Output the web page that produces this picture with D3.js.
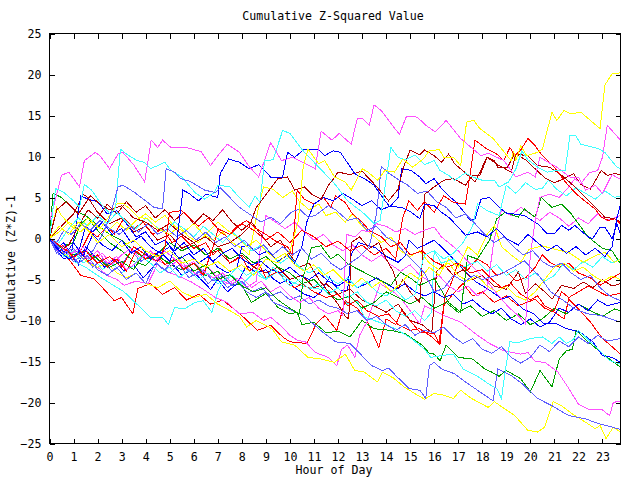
<!DOCTYPE html>
<html><head><meta charset="utf-8">
<script src="https://cdn.jsdelivr.net/npm/d3@7/dist/d3.min.js"></script>
<style>
body{margin:0;background:#fff}
svg text{font-family:"DejaVu Sans Mono",monospace;font-size:11.6px;fill:#000}
</style>
</head><body>
<svg id="chart" width="640" height="480"></svg>
<script>
const chartTitle = "Cumulative Z-Squared Value";
const xTitle = "Hour of Day";
const yTitle = "Cumulative (Z*Z)-1";
const xTicks = [0,1,2,3,4,5,6,7,8,9,10,11,12,13,14,15,16,17,18,19,20,21,22,23];
const yTicks = [-25,-20,-15,-10,-5,0,5,10,15,20,25];
const xDomain = [0, 23.75];
const yDomain = [-25, 25];

// series as [hour, cumulative value] pairs
const m1 = [[0,2],[0.5,7.7],[0.8,8.1],[1.25,6.3],[1.45,9.5],[1.9,10.5],[2.1,10.1],[2.5,8.5],[2.85,10.3],[3.05,10.5],[3.5,9],[3.96,6.9],[4.23,12],[4.5,11.1],[4.7,12],[5.05,11.1],[5.7,11.1],[6.3,10.6],[6.7,8.9],[7.0,10.1],[7.4,11.5],[7.9,10.5],[8.3,8.8],[8.7,7.5],[9.2,11.7],[9.65,9.5],[10.1,9.9],[10.6,9.2],[11.05,8.5],[11.3,13.1],[11.75,12],[12.05,12.8],[12.55,11.5],[12.8,14.6],[13.0,14.7],[13.3,13.8],[13.5,16.3],[13.8,15.6],[14.55,12.7],[14.85,14.9],[15.3,14.8],[15.65,13.8],[16.05,13.0],[16.5,14.4],[17.1,12.2],[17.7,10.7],[17.95,10.1],[18.25,10.4],[18.9,9.5],[19.4,7.5],[19.9,8.1],[20.2,7.5],[20.4,9.9],[20.8,9.2],[21.1,8.7],[21.65,7.5],[22.0,7.5],[22.3,5.9],[22.7,6.5],[23.0,5.5],[23.4,7.8],[23.75,7.2]];
const m2 = [[0,0],[0.4,-1.2],[0.8,-2.0],[1.2,-1.5],[1.6,-2.8],[2.0,-3.5],[2.4,-4.5],[2.8,-5.0],[3.1,-5.7],[3.6,-5.2],[4.1,-5.5],[4.5,-3.1],[4.9,-4.1],[5.3,-4.5],[5.9,-5.3],[6.45,-6.3],[6.9,-7.2],[7.4,-7.8],[7.9,-9.2],[8.45,-9.0],[8.9,-10.0],[9.2,-9.6],[9.6,-10.6],[10.0,-11.8],[10.3,-12.4],[10.65,-12.6],[11.05,-13.9],[11.6,-14.5],[11.95,-15.5],[12.15,-13.5],[12.4,-13.0],[12.7,-14.5],[12.9,-11.8],[13.2,-10.2],[13.75,-5.5],[14.4,-6.7],[14.75,-7.8],[15.4,-10.4],[15.6,-8.2],[16.0,-8.8],[16.5,-9.5],[17.1,-10.2],[17.8,-11.8],[18.3,-12.8],[18.9,-13.7],[19.6,-14.1],[19.9,-13.9],[20.2,-15.0],[20.6,-15.1],[21.15,-16.3],[21.6,-18.3],[22.0,-20.2],[22.4,-20.8],[22.95,-20.8],[23.3,-21.6],[23.45,-20.0],[23.75,-19.8]];
const m3 = [[0,0],[0.4,-0.8],[0.8,-2.0],[1.2,-1.2],[1.6,-2.5],[2.0,-1.5],[2.4,-3.0],[2.8,-2.2],[3.2,-3.8],[3.6,-3.0],[4.0,-1.8],[4.4,-2.8],[4.8,-1.5],[5.2,-2.5],[5.6,-3.5],[6.0,-2.8],[6.4,-4.0],[6.8,-4.8],[7.2,-4.2],[7.6,-5.5],[8.0,-4.8],[8.4,-6.0],[8.8,-5.2],[9.2,-6.5],[9.6,-5.8],[10.0,-7.0],[10.4,-7.8],[10.8,-7.2],[11.2,-8.5],[11.6,-9.2],[12.0,-8.8],[12.2,-9.4],[12.35,0.5],[12.7,0.2],[13.0,1.0],[13.3,0.8],[13.6,1.8],[14.0,1.5],[14.4,0.8],[14.8,1.2],[15.2,0.5],[15.6,1.0],[16.0,1.4],[16.3,0.2],[16.6,-0.5],[17.0,-1.5],[17.4,-2.8],[17.8,-4.0],[18.2,-5.2],[18.6,-6.7],[19.1,-8.4],[19.5,-9.4],[19.8,-10.4],[20.0,-2.0],[20.2,2.2],[20.4,5.0],[20.8,5.4],[21.2,5.0],[21.6,6.3],[21.85,7.3],[22.1,6.7],[22.45,8.0],[22.8,8.3],[23.0,9.9],[23.2,13.8],[23.75,12.0]];
const m4 = [[0,0],[0.3,-1.5],[0.6,-0.8],[1.0,-2.2],[1.4,-1.0],[1.8,-2.5],[2.2,-1.8],[2.6,-3.2],[3.0,-2.0],[3.4,-1.2],[3.8,-2.5],[4.2,-1.5],[4.6,-2.8],[5.0,-3.5],[5.4,-2.5],[5.8,-3.8],[6.2,-4.5],[6.6,-3.5],[7.0,-4.8],[7.4,-5.5],[7.8,-4.8],[8.2,-6.0],[8.6,-5.2],[8.8,-0.5],[9.0,2.8],[9.4,2.0],[9.8,1.2],[10.2,2.0],[10.6,0.8],[11.0,-0.2],[11.4,0.5],[11.8,-0.8],[12.2,-1.5],[12.6,-0.8],[13.0,-2.0],[13.4,-2.8],[13.8,-2.0],[14.2,-3.2],[14.6,-4.0],[15.0,-3.2],[15.4,-4.5],[15.8,-5.2],[16.2,-4.5],[16.6,-5.8],[17.0,-6.5],[17.4,-5.8],[17.8,-7.0],[18.2,-6.2],[18.5,0.0],[18.8,3.5],[19.2,2.8],[19.6,3.8],[20.0,3.0],[20.4,2.2],[20.8,3.2],[21.2,2.5],[21.6,1.5],[22.0,2.5],[22.4,1.8],[22.8,3.0],[23.2,2.2],[23.75,2.8]];

const c1 = [[0,0],[0.25,6.1],[0.6,5.6],[1,4.6],[1.25,3.8],[1.45,6.6],[1.75,5.9],[2.15,4.2],[2.55,2.9],[2.75,3.8],[2.95,10.9],[3.25,10.2],[3.65,9.5],[3.95,9.3],[4.2,8.5],[4.8,9.3],[5.05,8.3],[5.5,7.5],[6.05,5.6],[6.45,4.8],[6.85,5.6],[7.0,6.5],[7.5,6.3],[7.9,5.0],[8.3,3.8],[8.55,5.2],[8.75,4.4],[8.95,9.5],[9.3,9.6],[9.7,13.2],[10.0,12.8],[10.6,10.5],[11.2,8.7],[11.85,6.7],[12.4,4.6],[13.1,3.0],[13.5,1.8],[13.75,2.2],[14.2,11.1],[14.5,9.9],[14.8,9.6],[15.2,10.2],[15.6,9.0],[16,9.5],[16.24,8.3],[16.6,7.7],[16.85,7.1],[17.3,8.0],[17.6,7.5],[18,7.1],[18.5,7.1],[18.7,6.3],[19.1,6.9],[19.4,8.5],[19.65,10.7],[19.9,9.6],[20.3,8.7],[20.7,8.1],[21.1,8.3],[21.45,8.3],[21.65,12.6],[21.9,12.5],[22.1,11.5],[22.5,11.2],[22.8,11.0],[23.1,10.5],[23.6,8.7],[23.75,8.5]];
const c2 = [[0,0],[0.3,-1.0],[0.6,-2.2],[1.0,-1.5],[1.4,-3.0],[1.8,-2.2],[2.2,-3.8],[2.6,-3.0],[3.0,-4.2],[3.4,-3.5],[3.8,-2.2],[4.2,-3.0],[4.6,-4.2],[5.0,-3.5],[5.4,-4.8],[5.8,-3.8],[6.2,-5.0],[6.6,-4.2],[7.0,-5.5],[7.4,-4.8],[7.8,-3.5],[8.2,-4.5],[8.6,-3.8],[9.0,-5.0],[9.3,-3.5],[9.6,-4.5],[10.0,-5.8],[10.4,-5.0],[10.8,-6.2],[11.2,-5.5],[11.6,-6.8],[12.0,-6.0],[12.4,-7.2],[12.8,-6.5],[13.2,-7.8],[13.6,-8.2],[14.0,-7.5],[14.4,-8.8],[14.8,-9.5],[15.2,-8.8],[15.6,-10.0],[15.9,-9.0],[16.0,-1.5],[16.3,-3.0],[16.8,-2.5],[17.2,-3.5],[17.8,-2.8],[18.2,-4.0],[18.6,-3.2],[19.0,-4.5],[19.4,-3.8],[19.8,-5.0],[20.2,-4.2],[20.6,-5.2],[21.0,-4.5],[21.4,-3.0],[21.8,-3.8],[22.2,-2.8],[22.6,-3.5],[23.0,-2.2],[23.4,-3.0],[23.75,-2.5]];
const c3 = [[0,0],[0.5,-1.5],[1,-2.8],[1.5,-3.5],[2.1,-4.7],[3.1,-6.5],[4.2,-9.6],[4.7,-9.6],[4.95,-10.5],[5.2,-8.4],[5.6,-8.6],[6.05,-7.8],[6.4,-7.6],[6.75,-9.0],[7.0,-6.5],[7.2,-5.3],[7.6,-4.5],[8.0,-5.6],[8.5,-4.2],[9.0,-5.0],[9.5,-4.0],[10,-5.2],[10.5,-5.8],[11.85,-6.5],[12.4,-8.0],[12.8,-7.6],[13.1,-9.6],[13.7,-10.2],[14.4,-11],[15.05,-12.2],[15.6,-13.5],[15.85,-14.5],[16.25,-14.3],[16.8,-14.1],[17.2,-15.9],[17.75,-16.7],[18.25,-17.7],[18.6,-18.3],[18.8,-19.5],[18.95,-16.3],[19.15,-12.6],[19.5,-12.7],[20.0,-12.2],[20.5,-12],[20.9,-12.8],[21.2,-12],[21.5,-12.8],[21.8,-12.3],[22.0,-11.2],[22.5,-12.6],[22.9,-13.7],[23.3,-14.9],[23.75,-15.3]];
const c4 = [[0,0],[0.4,-0.5],[0.8,1.2],[1.2,2.5],[1.6,1.5],[2.0,2.8],[2.4,1.8],[2.8,3.2],[3.2,2.0],[3.6,1.2],[4.0,2.5],[4.4,1.5],[4.8,0.8],[5.2,2.0],[5.6,1.2],[6.0,0.2],[6.4,1.5],[6.8,0.5],[7.2,-0.5],[7.6,0.8],[8.0,-0.2],[8.4,-1.5],[8.8,-0.8],[9.2,-2.0],[9.6,-3.0],[10.0,-2.2],[10.4,-3.5],[10.8,-4.2],[11.2,-3.5],[11.6,-4.8],[12.0,-5.5],[12.4,-4.8],[12.8,-6.0],[13.2,-5.2],[13.6,-6.5],[14.0,-7.0],[14.4,-6.2],[14.8,-7.5],[15.2,-6.8],[15.5,-3.0],[15.6,-2.0],[16.0,-1.5],[16.4,-2.5],[16.8,-1.8],[17.2,-0.5],[17.6,1.5],[17.8,4.2],[18.2,3.4],[18.7,2.8],[19.0,6.5],[19.4,5.5],[19.8,6.8],[20.2,6.0],[20.5,6.1],[20.75,7.1],[21.1,6.0],[21.5,5.2],[21.9,6.2],[22.3,5.5],[22.7,4.8],[23.1,5.8],[23.5,5.0],[23.75,5.2]];

const y1 = [[0,0],[0.4,1.5],[0.8,0.5],[1.2,2.0],[1.6,1.0],[2.0,-0.5],[2.5,0.5],[3.0,-1.0],[3.5,-0.2],[4.0,-1.5],[4.5,-2.2],[5.0,-1.5],[5.5,-3.0],[6.0,-2.5],[6.5,-3.5],[7.0,-2.8],[7.5,-4.0],[8.0,-3.2],[8.5,-4.5],[9.0,-2.5],[9.5,-3.0],[10.0,-1.5],[10.35,2.2],[10.55,8.7],[10.75,10.9],[11.2,9.1],[11.45,9.5],[11.85,7.5],[12.3,6.9],[12.55,5.9],[13.0,8.5],[13.2,8.2],[13.65,7.1],[13.95,8.3],[14.35,8.1],[14.7,9.7],[15.1,8.7],[15.55,9.7],[15.8,10.7],[16.0,10.7],[16.2,10.9],[16.4,9.9],[16.8,9.9],[17.1,8.9],[17.35,14.2],[17.65,14.4],[17.9,13.4],[18.45,12.2],[19.2,9.5],[19.3,10.7],[19.4,9.5],[19.6,11.3],[19.85,10.1],[20.3,10.5],[20.5,10.9],[20.9,15.4],[21.1,14.4],[21.4,15.6],[21.7,15.2],[22.1,15.4],[22.5,14.4],[22.9,13.4],[23.1,18.7],[23.4,20.1],[23.75,20.2]];
const y2 = [[0,0],[0.3,3.8],[0.5,2.8],[0.9,1.5],[1.3,0.8],[1.7,2.0],[2.1,1.2],[2.5,2.8],[2.8,4.2],[3.05,4.3],[3.35,3.6],[3.7,2.6],[4.1,2.4],[4.5,1.2],[5.0,0.5],[5.4,1.5],[5.8,0.2],[6.2,-0.5],[6.6,0.8],[7.0,2.0],[7.4,1.0],[7.8,0.2],[8.2,-1.0],[8.6,-0.2],[9.0,-1.5],[9.4,-2.5],[9.8,-1.8],[10.2,-3.2],[10.6,-4.0],[11.0,-3.2],[11.4,-4.5],[11.8,-3.8],[12.2,-5.0],[12.6,-5.8],[13.0,-4.8],[13.4,-6.0],[13.8,-5.2],[14.2,-6.5],[14.6,-5.5],[15.0,-4.2],[15.4,-5.0],[15.8,-3.5],[16.2,-4.5],[16.6,-2.5],[17.0,-3.5],[17.4,-1.0],[17.8,-2.0],[18.2,0.5],[18.5,1.6],[18.8,-1.0],[19.2,-2.0],[19.6,-2.9],[19.95,-1.3],[20.5,-0.9],[21.0,-1.3],[21.6,-1.7],[22.2,-2.9],[22.7,-2.1],[23.1,-1.7],[23.5,-2.9],[23.75,-2.5]];
const y3 = [[0,0],[0.4,-1.5],[0.8,-2.2],[1.2,-1.8],[1.6,-3.0],[2.0,-3.5],[2.4,-3.0],[2.8,-4.2],[3.2,-4.8],[3.6,-4.2],[4.0,-5.5],[4.5,-6.0],[5.0,-5.2],[5.5,-6.5],[6.0,-7.2],[6.5,-6.8],[7.0,-8.0],[7.5,-8.8],[7.9,-9.5],[8.2,-10.8],[8.6,-10.0],[9.25,-11.0],[9.65,-12.6],[10.2,-13.0],[10.75,-14.5],[11.3,-14.7],[11.85,-15.1],[12.3,-14.1],[12.7,-16.1],[13.1,-16.3],[13.65,-17.5],[13.85,-16.3],[14.3,-17.0],[14.75,-18.1],[15.3,-19.1],[15.6,-19.6],[16.0,-18.9],[16.4,-19.1],[16.8,-19.5],[17.1,-18.5],[17.55,-19.5],[18.25,-20.6],[18.5,-19.9],[18.95,-20.8],[19.35,-21.6],[19.9,-23.4],[20.3,-23.6],[20.6,-23.0],[20.95,-19.9],[21.3,-20.4],[21.85,-21.6],[22.4,-22.6],[22.7,-23.2],[22.9,-22.8],[23.15,-24.4],[23.45,-23.0],[23.75,-23.6]];
const y4 = [[0,0],[0.4,0.8],[0.8,2.0],[1.2,1.2],[1.6,2.5],[2.0,1.5],[2.4,0.8],[2.8,2.0],[3.2,1.0],[3.6,2.2],[4.0,3.0],[4.4,2.0],[4.8,2.8],[5.2,1.5],[5.6,0.8],[6.0,1.8],[6.4,0.5],[6.8,-0.2],[7.2,0.8],[7.6,-0.5],[8.0,-1.2],[8.3,-2.0],[8.6,2.5],[8.9,6.3],[9.3,6.0],[9.7,5.0],[10.1,5.8],[10.4,4.5],[10.8,3.5],[11.2,4.2],[11.5,2.8],[11.9,3.2],[12.3,2.0],[12.6,3.0],[13.0,1.5],[13.4,0.5],[13.8,-0.5],[14.2,0.2],[14.6,-1.5],[15.0,-2.2],[15.4,-1.5],[15.8,-3.0],[16.2,-3.8],[16.6,-3.0],[17.0,-4.5],[17.4,-5.2],[17.8,-4.5],[18.2,-5.8],[18.6,-6.5],[19,-5.8],[19.4,-7.0],[19.8,-7.5],[20.2,-6.5],[20.6,-5.0],[21.0,-3.5],[21.4,-3.0],[21.8,-4.0],[22.2,-3.5],[22.6,-4.5],[23.0,-5.2],[23.4,-4.6],[23.75,-5.0]];

const b1 = [[0,0],[0.3,-1.0],[0.7,-1.8],[1.0,-0.5],[1.4,-2.2],[1.8,0.5],[2.2,-0.8],[2.6,-1.5],[3.0,-0.2],[3.4,-1.8],[3.8,-1.0],[4.2,-2.5],[4.6,-1.5],[5.0,-2.8],[5.3,-0.2],[5.55,5.9],[5.8,5.5],[6.2,4.6],[6.5,5.4],[7,5.0],[7.1,7.9],[7.45,9.7],[7.9,9.3],[8.3,8.5],[8.7,9.0],[9.2,7.5],[9.7,7.5],[9.9,10.5],[10.2,9.9],[10.6,10.9],[11.2,10.8],[11.45,10.1],[11.8,10.7],[12.1,10.5],[12.7,7.9],[13.1,7.3],[13.5,6.5],[13.95,4.6],[14.15,3.9],[14.65,3.8],[15.05,3.2],[15.4,2.4],[15.6,4.2],[16,4.0],[16.3,3.2],[16.6,2.6],[17.0,1.4],[17.3,0.4],[17.8,0.8],[18.2,0.2],[18.6,1.2],[19.0,0.0],[19.5,-0.8],[19.9,0.5],[20.3,-0.5],[20.7,-1.5],[21.1,-0.8],[21.5,-1.8],[21.9,-1.0],[22.3,-2.0],[22.7,-1.2],[23.1,-2.2],[23.4,-1.0],[23.6,2.5],[23.75,4.2]];
const b2 = [[0,0],[0.4,-1.5],[0.8,-2.5],[1.2,-1.8],[1.5,1.5],[1.8,0.8],[2.2,2.0],[2.6,0.5],[3.0,1.2],[3.4,-0.5],[3.8,0.3],[4.2,-1.0],[4.6,-1.8],[5.0,-1.0],[5.4,-2.5],[5.8,-1.8],[6.2,-3.0],[6.6,-2.2],[7.0,-3.5],[7.4,-4.2],[7.8,-3.5],[8.0,-1.0],[8.3,-0.8],[8.7,-2.0],[9.1,-1.5],[9.5,-2.8],[9.9,-2.0],[10.2,-3.0],[10.5,-1.0],[10.7,2.0],[11.0,4.2],[11.4,5.0],[11.8,4.6],[12.2,5.5],[12.6,4.8],[13.0,4.0],[13.4,4.6],[13.8,3.5],[14.2,4.0],[14.5,5.0],[14.65,8.5],[15.05,8.3],[15.4,7.5],[15.65,6.7],[16,7.3],[16.25,6.3],[16.6,5.2],[16.85,4.6],[17.25,3.2],[17.5,2.2],[17.7,2.4],[17.95,4.8],[18.3,5.0],[18.7,3.8],[19.05,3.0],[19.3,3.0],[19.75,2.8],[20.3,1.8],[20.7,0.6],[21.0,0.6],[21.3,1.6],[21.6,1.0],[21.85,1.6],[22.4,0.2],[22.6,0.0],[22.9,1.4],[23.1,1.4],[23.4,0.0],[23.6,1.8],[23.75,0.5]];
const b3 = [[0,0],[0.3,-1.5],[0.6,-2.5],[0.9,-2.0],[1.2,-3.2],[1.5,-1.0],[1.9,-2.2],[2.3,-3.5],[2.7,-2.5],[3.1,-4.0],[3.5,-3.2],[3.9,-4.8],[4.3,-3.5],[4.7,-2.0],[5.1,-3.0],[5.5,-4.5],[5.9,-3.8],[6.3,-5.0],[6.7,-6.2],[7.0,-5.0],[7.4,-6.5],[7.8,-5.5],[8.2,-3.3],[8.6,-4.2],[9.0,-3.8],[9.3,-4.9],[9.6,-5.5],[9.9,-5.0],[10.2,-6.0],[10.6,-6.8],[11.0,-7.2],[11.3,-6.5],[11.65,-4.7],[11.85,-5.7],[12.1,-6.3],[12.4,-6.3],[12.55,-1.9],[12.85,-0.5],[13.55,-1.1],[13.95,-2.1],[14.5,-2.9],[14.8,-2.1],[14.95,-0.2],[15.3,-1.2],[15.6,-0.8],[16,-0.2],[16.4,-1.3],[16.8,-2.5],[17.2,-3.7],[17.75,-5.3],[18.3,-6.3],[18.85,-7.4],[19.15,-7.0],[19.7,-8.6],[20.15,-9.2],[20.55,-10.4],[21.1,-10.4],[21.5,-11.0],[22.05,-11.4],[22.6,-12.6],[23.0,-14.3],[23.4,-14.5],[23.75,-15.1]];
const b4 = [[0,0],[0.3,-1.2],[0.6,-0.5],[0.9,-2.0],[1.1,1.5],[1.3,5.2],[1.6,4.8],[2.0,4.5],[2.4,3.0],[2.8,3.4],[3.2,1.8],[3.6,0.2],[4.0,0.8],[4.4,-0.8],[4.8,-0.2],[5.2,-1.5],[5.6,-0.5],[6.0,-2.0],[6.4,-1.2],[6.8,-2.8],[7.2,-1.8],[7.6,-1.2],[8.0,-2.5],[8.4,-3.2],[8.8,-2.8],[9.2,-3.8],[9.6,-4.2],[10.0,-3.5],[10.4,-4.5],[10.8,-5.0],[11.2,-4.2],[11.6,-5.2],[12.0,-5.8],[12.4,-5.0],[12.8,-6.0],[13.2,-5.5],[13.6,-4.8],[14.0,-5.5],[14.4,-6.2],[14.8,-5.5],[15.2,-6.5],[15.6,-7.0],[16.0,-6.5],[16.4,-7.2],[16.8,-6.8],[17.2,-8.0],[17.6,-7.5],[18.0,-8.5],[18.4,-9.2],[18.8,-8.5],[19.2,-9.8],[19.6,-10.5],[20.0,-9.8],[20.4,-10.8],[20.8,-10.2],[21.2,-8.5],[21.6,-9.0],[22.0,-8.0],[22.4,-8.8],[22.8,-7.5],[23.2,-8.2],[23.75,-7.8]];

const s1 = [[0,0],[0.3,-0.8],[0.6,-1.8],[1.0,-1.2],[1.4,-2.5],[1.8,-1.5],[2.2,0.5],[2.5,2.5],[2.85,6.3],[3.05,6.5],[3.55,5.6],[3.9,4.8],[4.35,3.8],[4.7,3.6],[4.85,8.5],[5.2,8.1],[5.45,7.3],[5.8,7.0],[6.0,6.7],[6.45,5.9],[6.9,5.6],[7.1,6.2],[7.5,5.0],[7.9,3.8],[8.3,3.0],[8.8,2.0],[9.2,2.6],[9.6,1.8],[10.05,3.2],[10.4,3.6],[10.75,2.6],[11.05,2.8],[11.6,4.0],[11.9,3.5],[12.4,2.2],[12.8,2.5],[13.2,1.0],[13.6,1.5],[14.0,0.2],[14.4,-0.5],[14.8,-1.8],[15.2,-3.0],[15.6,-4.2],[16,-6.5],[16.4,-6.1],[16.8,-4.5],[17.25,-5.3],[17.65,-4.5],[18.0,-5.0],[18.8,-4.3],[19.3,-3.5],[19.75,-2.7],[20.0,-3.5],[20.35,-4.5],[20.85,-6.5],[21.3,-7.4],[21.85,-8.6],[22.4,-9.2],[22.95,-9.4],[23.35,-9.8],[23.75,-10.2]];
const s2 = [[0,0],[0.3,-1.8],[0.6,-1.2],[1.0,-2.8],[1.4,-2.0],[1.8,-3.5],[2.2,-2.5],[2.6,-4.0],[3.0,-3.2],[3.4,-1.5],[3.8,-2.8],[4.2,-2.0],[4.6,-3.5],[5.0,-4.2],[5.4,-3.2],[5.8,-4.8],[6.2,-4.0],[6.6,-5.5],[7.0,-4.5],[7.4,-6.0],[7.8,-5.2],[8.2,-6.5],[8.6,-7.2],[9.0,-6.5],[9.3,-7.8],[9.65,-8.2],[10.1,-8.8],[10.6,-9.4],[11.0,-10.5],[11.4,-11.5],[11.9,-12.6],[12.5,-12.8],[12.9,-14.0],[13.4,-15.5],[13.85,-16.1],[14.1,-15.8],[14.4,-16.7],[14.95,-18.3],[15.4,-18.5],[15.65,-19.5],[15.8,-15.5],[16.0,-15.1],[16.3,-15.9],[16.85,-16.5],[17.4,-17.7],[17.8,-18.5],[18.45,-19.8],[18.65,-15.9],[19.2,-16.7],[19.65,-17.7],[20.3,-19.5],[20.9,-20.4],[21.6,-21.6],[22.3,-22.0],[22.85,-22.6],[23.4,-23.0],[23.75,-23.3]];
const s3 = [[0,0],[0.3,-0.5],[0.6,1.0],[0.9,0.5],[1.3,1.8],[1.7,1.0],[2.1,2.2],[2.5,1.2],[2.9,0.5],[3.3,1.5],[3.7,0.8],[4.1,1.8],[4.5,0.5],[4.9,1.2],[5.3,0.2],[5.7,1.0],[6.1,-0.2],[6.5,0.8],[6.9,-0.5],[7.3,0.2],[7.7,-1.0],[8.1,-0.2],[8.5,-1.5],[8.9,-0.8],[9.3,-2.0],[9.7,-1.0],[10.1,-2.0],[10.5,-1.2],[10.9,-2.5],[11.3,-1.8],[11.7,-3.0],[12.1,-3.8],[12.5,-3.0],[12.9,-2.2],[13.3,-1.0],[13.6,3.0],[13.8,8.8],[14.1,8.0],[14.5,7.2],[14.9,6.5],[15.3,5.5],[15.7,5.8],[16.1,4.5],[16.5,3.8],[16.9,2.5],[17.3,3.0],[17.7,1.8],[18.1,0.5],[18.5,-0.5],[18.9,0.2],[19.3,-1.0],[19.7,-2.0],[20.1,-1.5],[20.5,-2.8],[20.9,-3.5],[21.3,-3.0],[21.7,-4.2],[22.1,-5.0],[22.5,-4.5],[22.9,-6.0],[23.3,-7.0],[23.75,-7.6]];
const s4 = [[0,0],[0.4,-2.0],[0.8,-1.5],[1.2,-3.0],[1.6,-2.2],[2.0,-3.8],[2.4,-4.5],[2.8,-3.5],[3.2,-5.0],[3.6,-4.2],[4.0,-5.5],[4.4,-3.0],[4.8,-3.8],[5.2,-2.5],[5.6,-3.5],[6.0,-4.5],[6.4,-3.8],[6.8,-5.2],[7.2,-4.5],[7.6,-5.8],[8.0,-5.2],[8.4,-6.5],[8.8,-6.0],[9.2,-7.0],[9.6,-6.5],[10.0,-7.5],[10.4,-7.0],[10.8,-8.0],[11.2,-7.5],[11.6,-8.2],[12.0,-8.5],[12.4,-9.2],[12.8,-8.8],[13.2,-10.0],[13.6,-9.5],[14.0,-10.5],[14.4,-11.2],[14.8,-10.5],[15.2,-11.8],[15.6,-11.2],[16.0,-11.5],[16.4,-10.8],[16.8,-12.0],[17.2,-12.8],[17.6,-12.2],[18.0,-13.5],[18.4,-14.0],[18.8,-13.2],[19.2,-14.5],[19.6,-15.2],[20.0,-14.5],[20.4,-13.0],[20.8,-13.8],[21.2,-12.5],[21.6,-13.2],[22.0,-12.0],[22.4,-12.8],[22.8,-11.8],[23.2,-12.5],[23.75,-12.2]];

const r1 = [[0,0],[0.5,-1.0],[1,-2.2],[1.5,-1.5],[2,-3.0],[2.5,-2.2],[3,-3.5],[3.5,-1.0],[4,-2.0],[4.5,-2.8],[4.8,-1.0],[5.0,3.2],[5.5,3.4],[5.8,2.6],[6.2,1.5],[6.6,2.5],[7,1.2],[7.5,0.5],[8,1.8],[8.5,1.0],[9,-0.2],[9.5,0.8],[10,-0.5],[10.5,1.0],[11,0.2],[11.5,-1.0],[12,-0.3],[12.5,-1.5],[13,-0.8],[13.5,-2.0],[14,-1.2],[14.4,-2.5],[14.7,2.6],[14.95,4.6],[15.3,3.4],[15.6,4.5],[16,3.2],[16.4,5.2],[16.8,4.4],[17.3,4.2],[17.5,7.9],[17.7,12],[18.2,10.9],[18.6,10.3],[18.9,9.5],[19.15,11.1],[19.35,10.1],[19.6,10.8],[19.9,12.2],[20.2,11.3],[20.5,10.1],[21.0,8.7],[21.4,7.1],[21.85,5.6],[22.25,4.6],[22.7,3.6],[22.95,2.6],[23.25,2.2],[23.5,2.4],[23.75,1.8]];
const r2 = [[0,0],[0.4,-1.5],[0.8,-2.5],[1.3,-4.5],[1.85,-4.9],[2.3,-6.3],[2.7,-7.6],[3.0,-7.2],[3.47,-9.2],[3.68,-6.1],[4.2,-5.5],[4.7,-6.8],[5.2,-6.0],[5.7,-7.5],[6.2,-6.8],[6.7,-8.0],[7.2,-7.5],[7.85,-9.0],[8.65,-11.2],[9.2,-10.6],[9.7,-12.0],[10.0,-12.6],[10.7,-12.8],[11.1,-10.4],[11.45,-9.4],[11.95,-11.2],[12.3,-7.6],[12.8,-8.5],[13.2,-10.0],[13.7,-13.3],[14.0,-9.8],[14.4,-10.5],[14.65,-8.8],[15.4,-11.4],[16,-11.6],[16.24,-13],[16.4,-8.2],[16.8,-6.7],[17.2,-5.5],[17.6,-7.0],[18.0,-6.5],[18.5,-7.8],[19.0,-7.0],[19.5,-8.2],[20.2,-7.4],[20.6,-8.5],[21.0,-9.0],[21.4,-9.8],[21.6,-7.4],[22.0,-8.6],[22.5,-10.2],[23.0,-12.2],[23.4,-13.2],[23.75,-14.1]];
const r3 = [[0,0],[0.3,-1.2],[0.6,-0.8],[1.0,-2.5],[1.3,-1.5],[1.7,0.8],[2.0,0.2],[2.4,1.5],[2.7,0.5],[3.1,2.5],[3.5,1.2],[3.9,2.0],[4.3,0.5],[4.7,1.2],[5.1,-0.5],[5.5,0.3],[6,-1.2],[6.5,-0.5],[6.8,-2.0],[7.1,-1.2],[7.5,-3.0],[8.0,-2.2],[8.3,-4.0],[8.7,-3.0],[9.0,-4.8],[9.5,-4.0],[9.9,-5.5],[10.2,-6.0],[10.5,-5.5],[11.0,-6.5],[11.5,-7.2],[12,-6.8],[12.4,-8.2],[12.8,-7.5],[13.2,-8.8],[13.7,-9.5],[14.1,-9.2],[14.5,-10.5],[15.0,-11.2],[15.4,-11.0],[15.9,-12.0],[16.2,-12.8],[16.45,-7.0],[16.7,-5.5],[17.0,-3.0],[17.4,-3.8],[17.8,-2.5],[18.2,-3.2],[18.6,-4.5],[19.0,-4.0],[19.4,-5.2],[19.8,-4.8],[20.2,-3.5],[20.5,-2.0],[20.8,-2.9],[21.2,-3.5],[21.6,-3.0],[22.0,-4.2],[22.5,-4.8],[22.9,-5.7],[23.3,-5.0],[23.75,-4.2]];
const r4 = [[0,0],[0.4,-0.8],[0.8,-2.0],[1.2,-1.2],[1.6,-2.8],[2.0,-2.0],[2.4,-3.5],[2.8,-2.5],[3.2,-4.0],[3.6,-1.5],[4.0,-2.5],[4.4,-1.8],[4.8,-3.2],[5.2,-2.5],[5.6,-3.8],[6.0,-3.0],[6.4,-4.5],[6.8,-1.0],[7.0,1.0],[7.4,0.2],[7.8,1.5],[8.2,2.2],[8.6,1.2],[9.0,0.5],[9.5,-0.5],[9.9,-1.0],[10.1,-2.0],[10.3,5.9],[10.6,4.8],[11.0,4.2],[11.4,5.0],[11.7,3.8],[11.9,5.2],[12.3,4.4],[12.6,3.0],[13.0,2.0],[13.3,1.0],[13.8,0.2],[14.2,-1.0],[14.6,-0.5],[15.0,-2.0],[15.5,-1.5],[16,-2.8],[16.5,-3.5],[17,-3.0],[17.5,-4.2],[18,-3.8],[18.4,-5.0],[18.8,-6.0],[19.2,-5.5],[19.6,-6.8],[20,-7.5],[20.3,-7.0],[20.6,-8.2],[21,-8.8],[21.3,-6.5],[21.6,-7.2],[22.0,-6.5],[22.4,-5.8],[22.8,-6.4],[23.2,-7.0],[23.75,-6.7]];

const d1 = [[0,0],[0.3,3.5],[0.7,4.5],[1.2,3.0],[1.7,5.2],[2.1,4.2],[2.5,3.5],[3,4.0],[3.5,2.5],[4,2.0],[4.5,1.0],[5,1.8],[5.5,0.5],[6,-0.5],[6.5,0.2],[7,-1.0],[7.5,-0.5],[8.0,0.5],[8.3,1.4],[8.6,3.8],[9.5,7.3],[9.9,7.5],[10.2,5.9],[10.6,6.3],[10.9,5.4],[11.3,4.8],[11.6,6.5],[11.8,7.2],[12.0,8.1],[12.5,7.8],[13.0,8.2],[13.4,7.0],[13.7,6.0],[14.1,4.6],[14.5,6.0],[14.7,8.5],[15.0,10.8],[15.4,10.2],[15.6,10.8],[16,10.1],[16.3,9.3],[16.6,10.3],[16.85,9.1],[17.3,8.0],[17.7,6.9],[18.2,9.9],[18.5,9.5],[18.65,8.7],[19.05,8.7],[19.35,10.3],[19.9,10.1],[20.3,8.9],[20.8,8.7],[21.3,7.7],[21.7,6.7],[22.3,5.0],[22.7,3.8],[23.1,2.6],[23.5,2.4],[23.75,2.0]];
const d2 = [[0,0],[0.4,-1.5],[0.8,-0.8],[1.2,1.5],[1.6,3.5],[2,2.5],[2.4,4.2],[2.8,3.0],[3.2,4.5],[3.6,3.2],[4.0,4.0],[4.4,2.5],[4.8,3.5],[5.2,2.2],[5.6,3.2],[6.0,1.8],[6.4,3.0],[6.8,2.2],[7.2,3.5],[7.6,2.0],[8.0,1.0],[8.4,2.0],[8.8,0.5],[9.2,-1.0],[9.6,-0.2],[10.0,-2.0],[10.4,-3.5],[10.8,-3.0],[11.2,-5.0],[11.6,-6.5],[12,-8.0],[12.3,-9.5],[12.45,-9.8],[12.55,-0.5],[12.9,0.2],[13.3,-1.2],[13.7,-0.5],[14.0,-2.5],[14.3,-4.0],[14.5,-6.1],[14.7,-5.0],[15.0,-6.5],[15.4,-7.8],[15.5,-3],[15.6,5.4],[16,6.3],[16.4,7.1],[16.8,7.3],[17.3,6.5],[17.6,7.7],[17.9,7.7],[18.2,9.9],[18.7,8.9],[19.2,8.1],[19.4,10.3],[19.8,9.6],[20.2,8.5],[20.6,7.4],[21.0,6.8],[21.4,7.3],[21.8,7.9],[22.1,6.6],[22.5,6.0],[22.95,8.3],[23.2,7.7],[23.5,7.9],[23.75,7.8]];
const d3 = [[0,0],[0.5,1.5],[1,3.0],[1.4,5.4],[1.6,5.0],[2.0,3.2],[2.5,1.8],[3.0,2.5],[3.5,0.8],[4,1.5],[4.5,-0.2],[5,0.5],[5.5,-1.2],[6,-0.5],[6.5,-2.0],[7.0,-1.5],[7.5,-3.0],[8,-2.0],[8.5,-3.5],[9,-4.2],[9.5,-3.5],[10,-5.0],[10.5,-4.5],[11,-6.0],[11.5,-5.5],[12,-6.8],[12.5,-6.2],[13,-7.5],[13.5,-8.2],[14,-9.0],[14.5,-8.0],[15,-10.0],[15.5,-10.5],[15.9,-11.5],[16.1,-4.0],[16.4,-3.2],[16.8,-4.5],[17.2,-3.8],[17.6,-5.0],[18,-4.5],[18.5,-5.8],[19,-6.2],[19.5,-4.1],[19.8,-6.7],[20.2,-5.5],[20.6,-6.5],[20.9,-7.4],[21.3,-5.7],[21.8,-6.1],[22.2,-5.3],[22.6,-6.0],[23,-5.0],[23.4,-5.8],[23.75,-5.5]];

const g1 = [[0,0.5],[0.15,5.5],[0.5,5.0],[1,3.5],[1.5,2.8],[2,1.6],[2.5,0.5],[3,-0.2],[3.5,-1.5],[4,-2.5],[4.5,-2.0],[5,-3.2],[5.5,-3.8],[6,-3.0],[6.5,-4.5],[7,-4.0],[7.5,-5.5],[8,-5.7],[8.4,-7.8],[9,-6.7],[9.5,-8.4],[10,-9.2],[10.3,-9.0],[10.5,-10.5],[11,-10.2],[11.5,-11.5],[12,-11.3],[12.5,-12.0],[13,-10.0],[13.5,-11.0],[14.2,-11.2],[14.8,-11.6],[15.5,-13.0],[15.8,-14.0],[16,-14.1],[16.25,-14.9],[16.5,-13.0],[17.0,-14.5],[17.6,-14.7],[18.1,-15.9],[18.4,-16.3],[18.7,-16.8],[19.0,-16.1],[19.6,-17.1],[20.0,-18.7],[20.4,-16.1],[20.9,-18.1],[21.2,-14.7],[21.5,-13.7],[21.75,-13.5],[21.9,-11.2],[22.4,-12.6],[23.2,-14.5],[23.75,-15.7]];
const g2 = [[0,0],[0.5,-1.2],[1,-2.0],[1.5,-1.5],[2,-2.5],[2.5,-3.5],[3,-2.8],[3.5,-3.8],[4,-1.5],[4.5,-2.2],[5,-3.0],[5.5,-2.2],[6,-4.0],[6.5,-3.2],[7,-5.0],[7.5,-4.4],[8,-5.8],[8.5,-6.5],[9,-6.0],[9.5,-7.5],[10,-8.5],[10.4,-9.2],[10.55,-4.7],[10.9,-1.1],[11.3,-0.9],[11.7,-2.5],[12,-1.9],[12.4,-3.1],[12.8,-3.7],[13.2,-4.3],[13.6,-4.9],[14.2,-5.7],[14.6,-4.1],[15.05,-4.9],[15.4,-5.7],[16,-4.9],[16.3,-6.3],[16.6,-7.8],[17.1,-9.0],[17.4,-2.1],[17.8,-2.5],[18.3,-0.2],[18.6,2.4],[18.95,3.2],[19.5,2.6],[19.75,3.6],[20.2,2.6],[20.45,5.0],[20.9,3.8],[21.3,4.2],[21.7,3.0],[22.4,0.2],[23,-1.2],[23.4,-1.5],[23.75,-3.1]];
const g3 = [[0,0],[0.5,-1.0],[1.0,-0.5],[1.3,1.8],[1.6,2.5],[2.0,1.0],[2.5,-0.5],[3.0,-1.5],[3.5,-2.8],[4.0,-3.3],[4.5,-1.8],[5.0,-0.5],[5.5,-1.5],[6.0,-0.8],[6.5,-2.0],[7.0,-1.2],[7.5,-2.5],[8.0,-1.8],[8.5,-3.0],[9.0,-2.2],[9.5,-3.5],[10.0,-4.2],[10.5,-5.5],[11.0,-5.0],[11.5,-6.5],[12.0,-7.5],[12.5,-7.0],[13.0,-8.5],[13.5,-7.8],[14.0,-6.5],[14.5,-7.2],[15.0,-8.0],[15.5,-7.2],[16.0,-8.5],[16.5,-7.8],[17.0,-9.0],[17.5,-8.2],[18.0,-9.5],[18.5,-8.8],[19.0,-10.0],[19.5,-9.2],[20.0,-10.5],[20.5,-9.8],[21.0,-8.5],[21.5,-9.2],[22.0,-8.0],[22.5,-8.8],[23.0,-9.5],[23.5,-8.6],[23.75,-8.8]];

const seriesList = [r2, g1, b3, m2, c3, y3, s2, d3, r3, g3, b4, m4, c2, y4, s4, d2, r4, g2, b2, m3, c4, y2, s3, d1, r1, b1, m1, c1, s1, y1];
const seriesColors = ["#ff0000","#00a000","#0000ff","#ff50ff","#40ffff","#ffff00","#6060ff","#b00000",
                      "#ff0000","#00a000","#0000ff","#ff50ff","#40ffff","#ffff00","#6060ff","#b00000",
                      "#ff0000","#00a000","#0000ff","#ff50ff","#40ffff","#ffff00","#6060ff","#b00000",
                      "#ff0000","#0000ff","#ff50ff","#40ffff","#6060ff","#ffff00"];

const D3 = window.d3;
const svg = D3.select("#chart");
const W = 640, H = 480;
const pL = 49.5, pR = 620.5, pT = 33.5, pB = 443.5;
const xs = D3.scaleLinear().domain(xDomain).range([pL, pR]);
const ys = D3.scaleLinear().domain(yDomain).range([pB, pT]);

svg.append("rect").attr("width", W).attr("height", H).attr("fill", "#fff");

const plot = svg.append("g");
const lineGen = D3.line().x(d => xs(d[0])).y(d => ys(d[1]));
seriesList.forEach((s, i) => {
  plot.append("path").attr("d", lineGen(s)).attr("fill", "none")
    .attr("stroke", seriesColors[i]).attr("stroke-width", 1)
    .attr("shape-rendering", "crispEdges");
});

const ax = D3.axisBottom(xs).tickValues(xTicks).tickSizeInner(-5).tickSizeOuter(0).tickPadding(9).tickFormat(D3.format("d"));
const gx = svg.append("g").attr("transform", `translate(0,${pB})`).call(ax);
const axTop = D3.axisTop(xs).tickValues(xTicks).tickSizeInner(-5).tickSizeOuter(0).tickFormat("");
const gxt = svg.append("g").attr("transform", `translate(0,${pT})`).call(axTop);
const ay = D3.axisLeft(ys).tickValues(yTicks).tickSizeInner(-5).tickSizeOuter(0).tickPadding(8).tickFormat(D3.format("d"));
const gy = svg.append("g").attr("transform", `translate(${pL},0)`).call(ay);
const ayR = D3.axisRight(ys).tickValues(yTicks).tickSizeInner(-5).tickSizeOuter(0).tickFormat("");
const gyr = svg.append("g").attr("transform", `translate(${pR},0)`).call(ayR);
[gx, gxt, gy, gyr].forEach(g => {
  g.select(".domain").remove();
  g.selectAll("line").attr("stroke", "#000").attr("shape-rendering", "crispEdges");
  g.selectAll("text").attr("font-family", "DejaVu Sans Mono, monospace").attr("font-size", 11.6).attr("fill", "#000");
});

svg.append("rect").attr("x", pL).attr("y", pT).attr("width", pR - pL).attr("height", pB - pT)
  .attr("fill", "none").attr("stroke", "#000").attr("stroke-width", 1).attr("shape-rendering", "crispEdges");

svg.append("text").attr("x", 333).attr("y", 20).attr("text-anchor", "middle").text(chartTitle);
svg.append("text").attr("x", 334).attr("y", 474).attr("text-anchor", "middle").text(xTitle);
svg.append("text").attr("transform", "translate(15,258) rotate(-90)").attr("text-anchor", "middle").text(yTitle);
</script>
</body></html>
